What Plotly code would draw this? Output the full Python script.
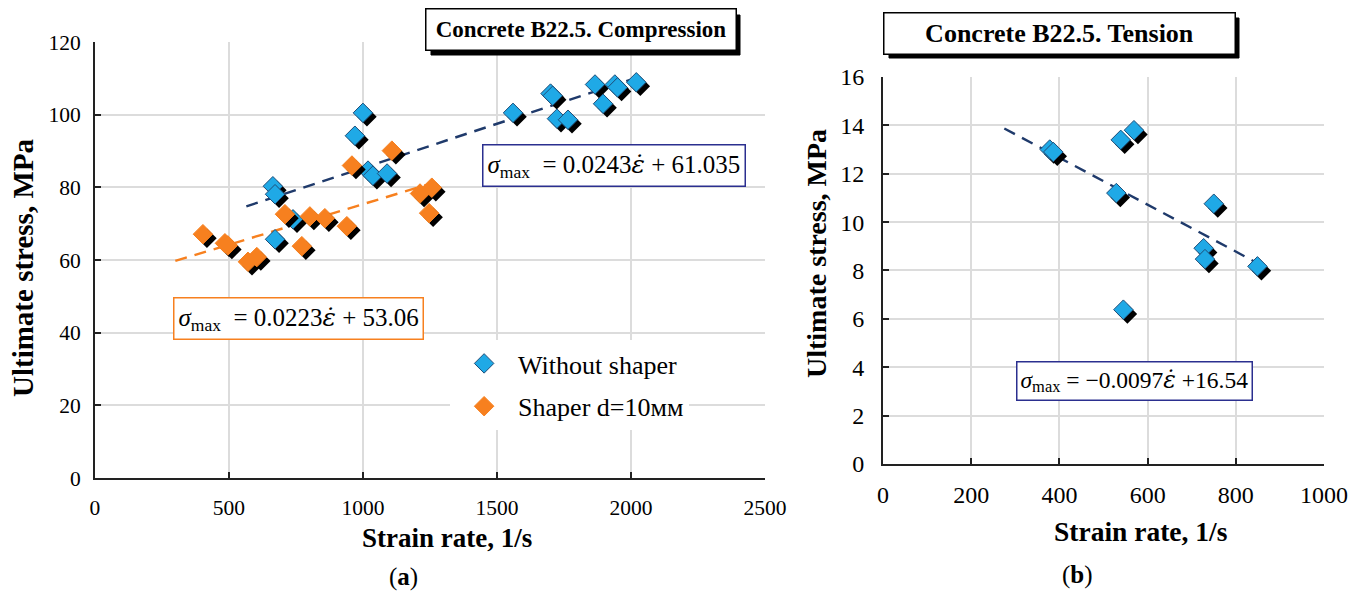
import plotly.graph_objects as go

# ---- data ----
blue_x = [664, 672, 672, 739, 970, 1000, 1019, 1037, 1090, 1560, 1700, 1708, 1724, 1765, 1866, 1896, 1940, 1950, 2020]
blue_y = [80.3, 78.1, 65.7, 71.2, 94.2, 100.5, 84.6, 83.2, 83.8, 100.5, 105.8, 105.2, 98.9, 98.6, 108.3, 103.0, 108.3, 107.5, 108.9]
orange_x = [403, 485, 496, 571, 604, 709, 772, 802, 858, 940, 959, 1108, 1213, 1257, 1247]
orange_y = [67.1, 64.6, 64.0, 59.5, 60.8, 72.6, 63.8, 72.0, 71.5, 69.3, 86.0, 90.1, 78.3, 79.9, 72.9]
tension_x = [378, 386, 539, 569, 529, 750, 727, 730, 849, 545]
tension_y = [13.0, 12.9, 13.4, 13.8, 11.2, 10.76, 8.92, 8.47, 8.17, 6.38]

blue_fit = (0.0243, 61.035, [565, 2030])
orange_fit = (0.0223, 53.06, [300, 1270])
tension_fit = (-0.0097, 16.54, [275, 855])

BLUE = "#1fa9e6"
ORANGE = "#f7801f"
NAVY = "#1f3a6b"
FONT = "Liberation Serif"
W, H = 1364, 594

fig = go.Figure()

def shadowed(x, y, color, name, xa, ya, dx, dy, legend=True, line="#1f4e79"):
    fig.add_trace(go.Scatter(x=[v + dx for v in x], y=[v - dy for v in y], mode="markers",
                             marker=dict(symbol="diamond", size=15, color="black"),
                             xaxis=xa, yaxis=ya, showlegend=False, hoverinfo="skip"))
    fig.add_trace(go.Scatter(x=x, y=y, mode="markers", name=name,
                             marker=dict(symbol="diamond", size=15, color=color,
                                         line=dict(color=line, width=1)),
                             xaxis=xa, yaxis=ya, showlegend=legend, legendgroup=name))

def fit(params, color, xa, ya):
    a, b, xr = params
    fig.add_trace(go.Scatter(x=xr, y=[a * v + b for v in xr], mode="lines",
                             line=dict(color=color, width=2.4, dash="12px,8px"),
                             xaxis=xa, yaxis=ya, showlegend=False, hoverinfo="skip"))

fit(blue_fit, NAVY, "x", "y")
fit(orange_fit, ORANGE, "x", "y")
shadowed(blue_x, blue_y, BLUE, "Without shaper", "x", "y", 15, 1.1)
shadowed(orange_x, orange_y, ORANGE, "Shaper d=10мм", "x", "y", 15, 1.1, line=ORANGE)
fit(tension_fit, NAVY, "x2", "y2")
shadowed(tension_x, tension_y, BLUE, "Tension", "x2", "y2", 9, 0.18, legend=False)

axis_common = dict(showgrid=True, gridcolor="#dcdcdc", gridwidth=1.5, zeroline=False,
                   showline=True, linecolor="#222", linewidth=2, ticks="inside",
                   ticklen=6, tickcolor="#222", tickwidth=1.5, mirror=False, automargin=False)

fig.update_layout(
    width=W, height=H, margin=dict(l=0, r=0, t=0, b=0, autoexpand=False),
    paper_bgcolor="white", plot_bgcolor="white",
    font=dict(family=FONT, color="black"),
    xaxis=dict(domain=[0.0696, 0.5608], range=[0, 2500], dtick=500, anchor="y",
               tickfont=dict(size=21.5, family=FONT), ticklabelstandoff=9, **axis_common),
    yaxis=dict(domain=[0.1953, 0.9293], range=[0, 120], dtick=20, anchor="x",
               tickfont=dict(size=21.5, family=FONT), ticklabelstandoff=8, **axis_common),
    xaxis2=dict(domain=[0.6474, 0.9707], range=[0, 1000], dtick=200, anchor="y2",
                tickfont=dict(size=24, family=FONT), ticklabelstandoff=8, **axis_common),
    yaxis2=dict(domain=[0.2189, 0.8704], range=[0, 16], dtick=2, anchor="x2",
                tickfont=dict(size=24, family=FONT), ticklabelstandoff=12, **axis_common),
    legend=dict(x=0.330, y=0.4276, xanchor="left", yanchor="top", bgcolor="white",
                font=dict(size=26, family=FONT), traceorder="grouped", tracegroupgap=6,
                itemwidth=58),
)

def title_box(text, left, top, bw, bh, size, pad=3, sh=5):
    # drop shadow (pixel box converted to paper coords)
    fig.add_shape(type="rect", xref="paper", yref="paper",
                  x0=(left + sh) / W, x1=(left + bw + sh) / W,
                  y0=1 - (top + bh + sh) / H, y1=1 - (top + sh) / H,
                  fillcolor="black", line=dict(color="black", width=1), layer="above")
    fig.add_annotation(text=f"<b>{text}</b>", x=(left + bw / 2) / W, y=1 - (top + bh / 2) / H,
                       xref="paper", yref="paper", showarrow=False,
                       xanchor="center", yanchor="middle",
                       width=bw - 2 * pad, height=bh - 2 * pad,
                       font=dict(size=size, family=FONT, color="black"),
                       bgcolor="white", bordercolor="black", borderwidth=1.5, borderpad=pad)

title_box("Concrete B22.5. Compression", 426, 10, 309, 40, 23)
title_box("Concrete B22.5. Tension", 884, 13, 350, 40, 26)

def eq_box(text, x, y, size, border, pad):
    fig.add_annotation(text=text, x=x, y=y, xref="paper", yref="paper", showarrow=False,
                       xanchor="center", yanchor="middle",
                       font=dict(size=size, family=FONT, color="black"),
                       bgcolor="white", bordercolor=border, borderwidth=1.5, borderpad=pad)

EPS = "<span style=\"font-family:'DejaVu Serif'\">ε\u0307</span>"
eq_box(f"<i>σ</i><sub>max</sub>  = 0.0243<i>{EPS}</i> + 61.035", 0.450, 0.722, 25, "#2b2f8f", 4)
eq_box(f"<i>σ</i><sub>max</sub>  = 0.0223<i>{EPS}</i> + 53.06", 0.2185, 0.4638, 25, ORANGE, 4)
eq_box(f"<i>σ</i><sub>max</sub> = −0.0097<i>{EPS}</i> +16.54", 0.8318, 0.3594, 23.5, "#2b2f8f", 3)

# axis titles and panel labels
def label(text, x, y, size, angle=0):
    fig.add_annotation(text=text, x=x, y=y, xref="paper", yref="paper", textangle=angle,
                       xanchor="center", yanchor="middle", showarrow=False,
                       font=dict(size=size, family=FONT))

label("<b>Strain rate, 1/s</b>", 447 / W, 1 - 538 / H, 27)
label("<b>Strain rate, 1/s</b>", 1141 / W, 1 - 531 / H, 27.5)
label("<b>Ultimate stress, MPa</b>", 23 / W, 1 - 268 / H, 29, -90)
label("<b>Ultimate stress, MPa</b>", 817 / W, 1 - 254 / H, 28, -90)
label("(<b>a</b>)", 403 / W, 1 - 577 / H, 25)
label("(<b>b</b>)", 1077 / W, 1 - 575 / H, 25)

fig.write_html("out.html")
